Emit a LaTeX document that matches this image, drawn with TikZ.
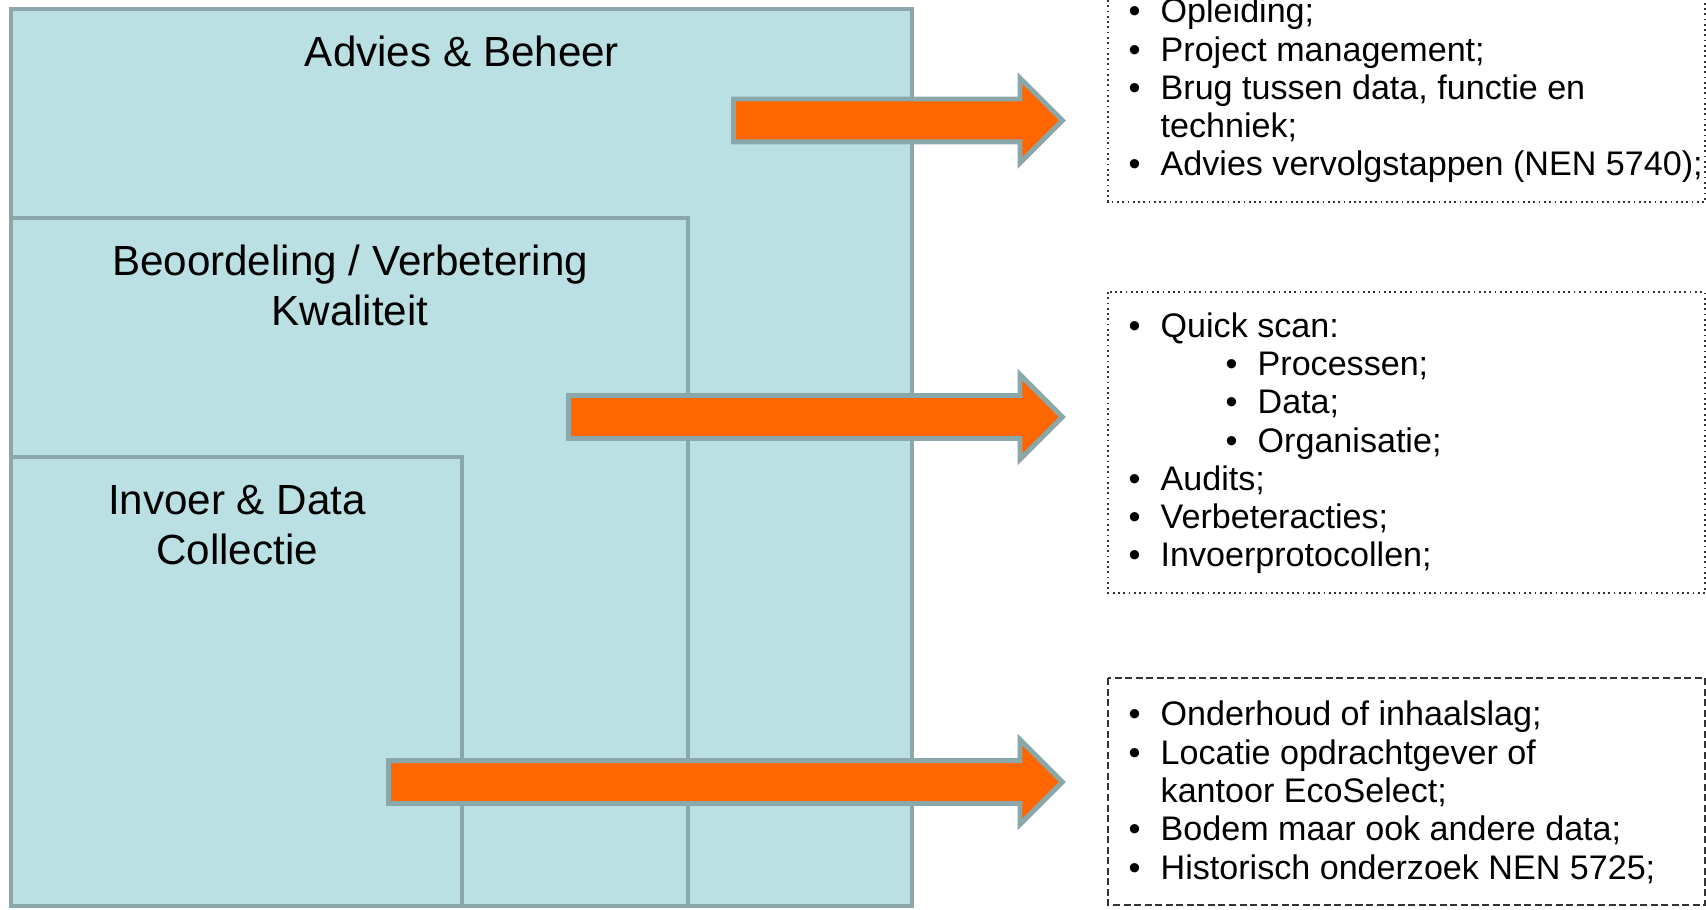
\documentclass[tikz,border=0pt]{standalone}
\usepackage{fontspec}
\setmainfont{Liberation Sans}
\usetikzlibrary{shapes.arrows}
\definecolor{blokvul}{HTML}{BBE0E3}
\definecolor{blokrand}{HTML}{8AA8A9}
\definecolor{pijloranje}{HTML}{FF6600}
\newcommand{\tf}{\fontsize{12}{14.2}\selectfont}
\newcommand{\lf}{\fontsize{9.7}{10.9}\selectfont}
\newcommand{\bul}{\makebox[0.32cm][l]{•}}
\newcommand{\subbul}{\hspace*{0.97cm}\makebox[0.32cm][l]{•}}
\newcommand{\hang}{\hspace*{0.32cm}}

\tikzset{
  blok/.style={fill=blokvul, draw=blokrand, line width=1.2pt},
  titel/.style={align=center, font=\tf},
  pijl/.style={single arrow, fill=pijloranje, draw=blokrand, line width=1.4pt,
    inner sep=0.19cm, single arrow head extend=0.21cm, anchor=tail},
  lijst/.style={draw=black!80, line width=0.5pt},
  lijsttekst/.style={align=left, anchor=base west, font=\lf, inner sep=0pt},
}

\begin{document}
\begin{tikzpicture}
    \useasboundingbox (0,0) rectangle (17.06,9.09);
    \clip (0,0) rectangle (17.06,9.09);

    % drie blokken
    \draw[blok] (0.11,0.03) rectangle (9.12,9.00);
    \node [titel] at (4.62,8.58) (advies) {Advies \& Beheer};
    \draw[blok] (0.11,0.03) rectangle (6.88,6.91);
    \node [titel] at (3.50,6.24) (beoordeling) {Beoordeling / Verbetering\\ Kwaliteit};
    \draw[blok] (0.11,0.03) rectangle (4.62,4.52);
    \node [titel] at (2.37,3.84) (invoer) {Invoer \& Data\\ Collectie};

    % pijlen
    \node [pijl, minimum height=3.29cm] (pijl1) at (7.31,7.885) {};
    \node [pijl, minimum height=4.94cm] (pijl2) at (5.66,4.92) {};
    \node [pijl, minimum height=6.74cm] (pijl3) at (3.86,1.27) {};

    % lijsten
    \draw[lijst, densely dotted] (11.08,9.30) rectangle (17.05,7.07);
    \node [lijsttekst] at (11.28,7.33) (lijst1) {
      \bul Opleiding;\\
      \bul Project management;\\
      \bul Brug tussen data, functie en\\
      \hang techniek;\\
      \bul Advies vervolgstappen (NEN 5740);};

    \draw[lijst, densely dotted] (11.08,6.17) rectangle (17.05,3.16);
    \node [lijsttekst] at (11.28,3.42) (lijst2) {
      \bul Quick scan:\\
      \subbul Processen;\\
      \subbul Data;\\
      \subbul Organisatie;\\
      \bul Audits;\\
      \bul Verbeteracties;\\
      \bul Invoerprotocollen;};

    \draw[lijst, dash pattern=on 2pt off 1pt] (11.08,2.31) rectangle (17.05,0.04);
    \node [lijsttekst] at (11.28,0.30) (lijst3) {
      \bul Onderhoud of inhaalslag;\\
      \bul Locatie opdrachtgever of\\
      \hang kantoor EcoSelect;\\
      \bul Bodem maar ook andere data;\\
      \bul Historisch onderzoek NEN 5725;};
\end{tikzpicture}
\end{document}
